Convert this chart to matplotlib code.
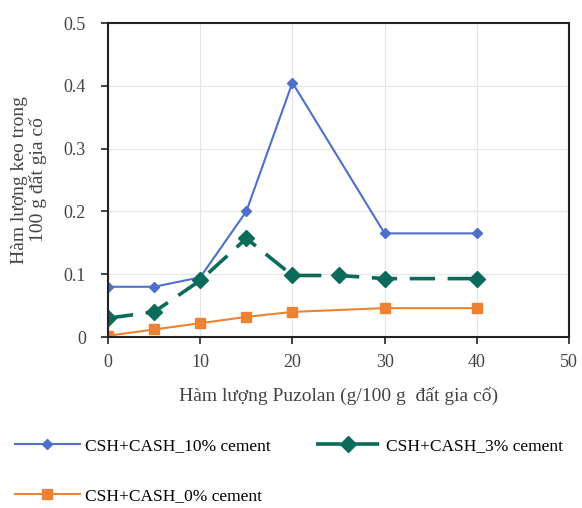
import matplotlib
matplotlib.use("Agg")
import matplotlib.pyplot as plt

plt.rcParams['font.family'] = ['Liberation Serif', 'DejaVu Serif']

x_10 = [0, 5, 10, 15, 20, 30, 40]
y_10 = [0.080, 0.080, 0.095, 0.200, 0.405, 0.165, 0.165]
x_3 = [0, 5, 10, 15, 20, 25, 30, 40]
y_3 = [0.030, 0.040, 0.090, 0.157, 0.098, 0.098, 0.093, 0.093]
x_0 = [0, 5, 10, 15, 20, 30, 40]
y_0 = [0.002, 0.012, 0.022, 0.032, 0.040, 0.046, 0.046]

labels = ["CSH+CASH_10% cement", "CSH+CASH_3% cement", "CSH+CASH_0% cement"]
xticks = [0, 10, 20, 30, 40, 50]
yticks = [0, 0.1, 0.2, 0.3, 0.4, 0.5]
yticklabels = ["0", "0.1", "0.2", "0.3", "0.4", "0.5"]

fig = plt.figure(figsize=(5.82, 5.08), dpi=100)
ax = fig.add_axes([0.1856, 0.3366, 0.7921, 0.6181])

l1, = ax.plot(x_10, y_10, color="#4F6FC8", lw=1.5, marker="D", ms=5, label=labels[0])
l2, = ax.plot(x_3, y_3, color="#0B6B5A", lw=2.6, marker="D", ms=8, dashes=(7, 3.5), label=labels[1])
l3, = ax.plot(x_0, y_0, color="#EE8233", lw=1.5, marker="s", ms=7, label=labels[2])

ax.set_xlim(0, 50)
ax.set_ylim(0, 0.5)
ax.set_xticks(xticks)
ax.set_yticks(yticks)
ax.set_yticklabels(yticklabels)
ax.grid(True, color="#E6E6E6", lw=0.8)
ax.set_axisbelow(True)
for s in ax.spines.values():
    s.set_linewidth(1.5)
    s.set_color("#222222")
ax.tick_params(direction="out", length=5, width=1.2, labelsize=13, colors="#222222", labelcolor="#444444")
ax.tick_params(axis="x", pad=7)
ax.tick_params(axis="y", pad=11)

ax.set_xlabel("Hàm lượng Puzolan (g/100 g  đất gia cố)", fontsize=14, color="#444444")
ax.xaxis.set_label_coords(0.5, -0.16)
ax.set_ylabel("Hàm lượng keo trong\n100 g đất gia cố", fontsize=14, color="#444444", linespacing=1.1)
ax.yaxis.set_label_coords(-0.132, 0.5)

fig.legend(handles=[l1, l3, l2], loc="upper left", bbox_to_anchor=(0.025, 0.137), ncol=2,
           frameon=False, fontsize=12.5, handlelength=3.75, columnspacing=2.6, labelspacing=1.95,
           handletextpad=0.3, borderpad=0, borderaxespad=0)

fig.savefig("out.png", dpi=100)
